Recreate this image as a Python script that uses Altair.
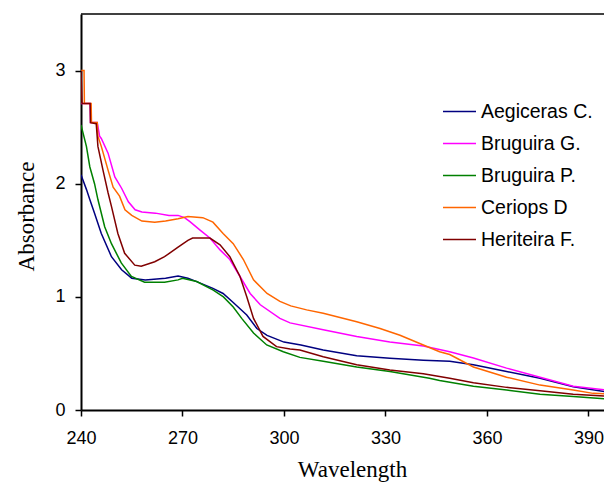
import altair as alt
import pandas as pd

names = ["Aegiceras C.", "Bruguira G.", "Bruguira P.", "Ceriops D", "Heriteira F."]
colors = ["#000080", "#FF00FF", "#008000", "#FF6600", "#800000"]

aeg_wl = [240, 240.6, 241.6, 242.6, 244, 246, 249, 252, 255, 259, 265, 268.7, 271.6, 274.2,
          279, 282, 285, 289, 292, 295, 300, 305, 311.6, 321.5, 331.3, 341.2, 349, 356,
          365.8, 375.7, 385.5, 397]
aeg_abs = [2.08, 2.03, 1.95, 1.86, 1.74, 1.56, 1.355, 1.24, 1.165, 1.15, 1.165, 1.185, 1.165, 1.135,
           1.075, 1.03, 0.95, 0.84, 0.72, 0.66, 0.60, 0.575, 0.53, 0.48, 0.457, 0.44, 0.43, 0.40,
           0.34, 0.28, 0.206, 0.153]

brg_wl = [240, 242.7, 242.8, 244.8, 245.5, 246, 248, 250, 252, 254, 256, 258, 262, 266, 268.7,
          270.6, 272.2, 275.2, 278.1, 281.1, 284, 287, 290, 293, 298.8, 301.8, 311.6, 321.5,
          331.3, 341.2, 349, 356, 365.8, 375.7, 385.5, 397]
brg_abs = [2.71, 2.71, 2.54, 2.54, 2.42, 2.40, 2.27, 2.06, 1.96, 1.84, 1.77, 1.75, 1.74, 1.72, 1.72,
           1.70, 1.665, 1.59, 1.52, 1.415, 1.33, 1.18, 1.03, 0.93, 0.81, 0.77, 0.71, 0.65,
           0.60, 0.565, 0.515, 0.46, 0.37, 0.29, 0.21, 0.17]

brp_wl = [240, 241.6, 242.6, 244, 245, 247, 249, 251.9, 254.9, 258.8, 264.7, 268.7, 270, 274.2,
          279.1, 282.1, 285, 287.5, 291, 294.9, 299.8, 304.7, 311.6, 321.5, 331.3, 343, 346,
          356, 365.8, 375.7, 385.5, 397]
brp_abs = [2.52, 2.33, 2.15, 2.0, 1.86, 1.62, 1.47, 1.30, 1.18, 1.13, 1.13, 1.15, 1.165, 1.135,
           1.06, 1.0, 0.91, 0.81, 0.68, 0.575, 0.515, 0.465, 0.43, 0.38, 0.34, 0.28, 0.26,
           0.21, 0.177, 0.14, 0.12, 0.095]

cer_wl = [240, 240.9, 241, 243, 243.1, 244.8, 245, 246, 248, 249.5, 251.4, 253, 255, 258, 261.8,
          265, 268.7, 271.6, 276, 279, 282, 285, 288, 291, 295, 298.8, 302, 306.7, 311.6, 321.5,
          328.4, 334.3, 341.2, 346, 349, 356, 365.8, 375.7, 385.5, 391.4, 397]
cer_abs = [3.0, 3.0, 2.71, 2.71, 2.54, 2.54, 2.42, 2.33, 2.12, 1.97, 1.89, 1.77, 1.72, 1.67, 1.66,
           1.67, 1.69, 1.71, 1.70, 1.66, 1.56, 1.47, 1.33, 1.15, 1.03, 0.96, 0.92, 0.885, 0.855, 0.78,
           0.72, 0.66, 0.575, 0.515, 0.49, 0.38, 0.29, 0.22, 0.177, 0.147, 0.14]

her_wl = [240, 240.3, 242.7, 242.8, 244.5, 245, 246.5, 248, 249, 250.9, 252.9, 255.9, 257.8,
          261.8, 264.7, 268.7, 271.6, 273, 278.1, 281.1, 284, 287, 289, 291, 293.8, 297.8, 301.8,
          304.7, 311.6, 321.5, 331.3, 341.2, 349, 356, 365.8, 375.7, 385.5, 397]
her_abs = [3.0, 2.71, 2.71, 2.54, 2.53, 2.33, 2.12, 1.92, 1.80, 1.56, 1.385, 1.28, 1.27,
           1.31, 1.355, 1.44, 1.50, 1.52, 1.52, 1.46, 1.355, 1.18, 1.0, 0.81, 0.65, 0.56, 0.54,
           0.53, 0.47, 0.40, 0.354, 0.32, 0.28, 0.24, 0.20, 0.17, 0.14, 0.12]

x_ticks = [240, 270, 300, 330, 360, 390]
y_ticks = [0, 1, 2, 3]
x_domain = [240, 394.6]
y_domain = [0, 3.5]

rows = []
for name, wl, ab in zip(names, [aeg_wl, brg_wl, brp_wl, cer_wl, her_wl],
                        [aeg_abs, brg_abs, brp_abs, cer_abs, her_abs]):
    for i, (w, a) in enumerate(zip(wl, ab)):
        rows.append({"Series": name, "Wavelength": w, "Absorbance": a, "idx": i})
df = pd.DataFrame(rows)

lines = alt.Chart(df).mark_line(strokeWidth=1.5, clip=True).encode(
    x=alt.X("Wavelength:Q",
            scale=alt.Scale(domain=x_domain, nice=False, zero=False),
            axis=alt.Axis(values=x_ticks, title="Wavelength", labelPadding=13, labelFlush=False,
                          format="d",
                          titleX=271, titleY=66, titleBaseline="alphabetic", titleAlign="center")),
    y=alt.Y("Absorbance:Q",
            scale=alt.Scale(domain=y_domain, nice=False),
            axis=alt.Axis(values=y_ticks, title="Absorbance", labelPadding=10, labelFlush=False,
                          format="d",
                          titleX=-48, titleY=202, titleAngle=-90, titleBaseline="alphabetic",
                          titleAlign="center")),
    color=alt.Color("Series:N", scale=alt.Scale(domain=names, range=colors),
                    legend=alt.Legend(orient="none", legendX=361, legendY=80, title=None,
                                      symbolType="stroke", symbolSize=1089, symbolStrokeWidth=1.5,
                                      labelFontSize=19.5, labelFont="Liberation Sans",
                                      labelColor="black", labelOffset=4, rowPadding=5, padding=0)),
    order="idx:Q",
)

top = alt.Chart(pd.DataFrame({"top": [3.5]})).mark_rule(color="black", strokeWidth=1.5).encode(
    y=alt.Y("top:Q")
)

chart = alt.layer(lines, top).properties(
    width=523, height=396,
    autosize=alt.AutoSizeParams(type="none"),
    padding={"left": 73, "top": 6, "right": 0, "bottom": 73},
).configure_view(stroke=None).configure_axis(
    grid=False, domainColor="black", domainWidth=2, tickColor="black", tickWidth=1.5, tickSize=6,
    labelFont="Liberation Sans", labelFontSize=18, labelColor="black",
    titleFont="Liberation Serif", titleFontSize=23, titleFontWeight="normal", titleColor="black",
)

chart.save("out.html", embed_options={"renderer": "svg", "actions": False})
